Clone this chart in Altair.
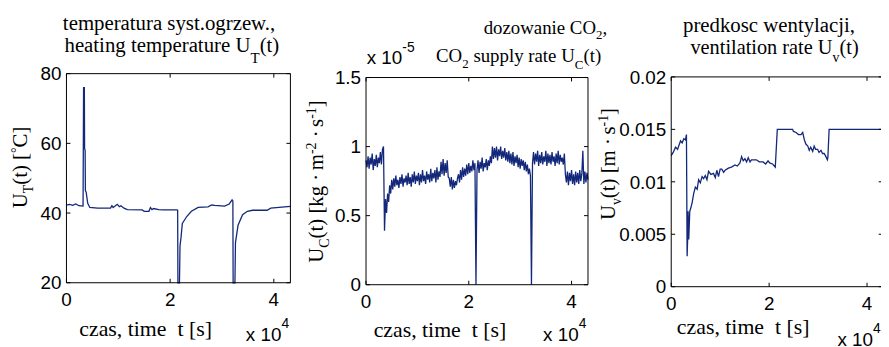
import altair as alt
import pandas as pd

# ---------------- data ----------------
T_END = 43200
x_ticks = [0, 20000, 40000]

heat_t = [0, 600, 1200, 1800, 2400, 3200, 3300, 3450, 3500, 3600, 3650, 3800, 4100, 4500,
          6000, 8500, 8760, 9000, 9800, 10200, 10500, 11100, 11750, 14600, 15000, 15900,
          16200, 16500, 16800, 17800, 18700, 21300, 21450, 21500, 21800, 21900, 22100, 22350,
          23200, 24100, 25400, 27300, 28000, 28600, 30500, 31400, 31950, 32100, 32150, 32500,
          32600, 33100, 33970, 34900, 35900, 38700, 39400, 41000, 43200]
heat_v = [42.3, 42.5, 42.2, 42.6, 42.1, 42.0, 76.0, 76.0, 58.5, 58.0, 46.5, 46.0, 42.8, 41.6,
          41.4, 41.4, 42.1, 41.6, 42.5, 41.8, 42.1, 41.4, 41.0, 40.9, 40.5, 40.5,
          41.6, 41.0, 41.3, 41.0, 40.9, 40.9, 40.8, 20.0, 20.0, 30.5, 33.0, 37.0,
          39.0, 40.5, 41.6, 41.8, 42.3, 42.2, 42.0, 42.6, 43.8, 43.5, 20.0, 20.0,
          31.5, 36.5, 39.5, 40.5, 40.8, 40.8, 41.4, 41.6, 41.9]
heat_ticks = [20, 40, 60, 80]

co2_dt = 200  # sampling step of the CO2 record [s]
co2_v = [0.90, 0.85, 0.93, 0.84, 0.92, 0.87, 0.95, 0.83, 0.91, 0.86, 0.94, 0.85, 0.92, 0.88,
         0.96, 0.87, 0.98,
         1.00, 0.39, 0.62, 0.52, 0.66, 0.60, 0.72, 0.66, 0.76, 0.69,
         0.77, 0.71, 0.79, 0.72, 0.76, 0.70, 0.78, 0.73, 0.80, 0.71,
         0.77, 0.74, 0.79, 0.72, 0.81, 0.73, 0.78, 0.71, 0.80, 0.74,
         0.82, 0.73, 0.79, 0.75, 0.81, 0.72, 0.80, 0.74, 0.83, 0.75,
         0.79, 0.73, 0.82, 0.76, 0.80, 0.74, 0.84, 0.75, 0.81, 0.77,
         0.83, 0.74, 0.85, 0.76, 0.82, 0.78,
         0.89, 0.80, 0.91, 0.79, 0.88, 0.81, 0.90, 0.78,
         0.77, 0.71, 0.78, 0.69, 0.76, 0.70, 0.75, 0.72, 0.77,
         0.80, 0.74, 0.83, 0.76, 0.85, 0.78, 0.84, 0.79, 0.87, 0.80, 0.88, 0.81, 0.86, 0.82,
         0.90, 0.83, 0.88,
         0.00,
         0.83, 0.90, 0.81, 0.89, 0.84, 0.92, 0.82, 0.88, 0.85, 0.91, 0.83, 0.90, 0.86, 0.93, 0.88,
         1.00, 0.91, 0.99, 0.92, 1.00, 0.90, 0.98, 0.93, 1.00, 0.91, 0.97, 0.92, 0.99, 0.90, 0.96,
         0.89, 0.97, 0.88, 0.95, 0.87, 0.96, 0.86, 0.93, 0.88, 0.94, 0.85, 0.92, 0.84, 0.91,
         0.86, 0.90, 0.83, 0.89, 0.82, 0.87, 0.80, 0.84,
         0.79, 0.00,
         0.88, 0.96, 0.87, 0.95, 0.89, 0.97, 0.86, 0.94, 0.88, 0.96,
         0.87, 0.93, 0.89, 0.97, 0.86, 0.95, 0.88, 0.94, 0.87, 0.96,
         0.89, 0.93, 0.86, 0.95, 0.88, 0.97, 0.87, 0.94, 0.89, 0.92,
         0.87, 0.95,
         0.80,
         0.74, 0.82, 0.72, 0.81, 0.75, 0.83, 0.73, 0.80, 0.72, 0.82, 0.74, 0.81, 0.73, 0.83,
         0.75, 0.80,
         0.97,
         0.73, 0.82, 0.74, 0.81, 0.76]
co2_t = [i * co2_dt for i in range(len(co2_v))]
co2_ticks = [0, 0.5, 1, 1.5]

vent_t = [0, 400, 880, 1300, 1900, 2230, 2570, 2900, 3110, 3250, 3350, 3450, 3580, 3790,
          4000, 4260, 4600, 4930, 5300, 5600, 5940, 6300, 6620, 6960, 7300, 7630, 8100,
          8640, 9000, 9320, 9660, 10000, 10330, 10700, 11000, 11680, 12300, 13030, 13500,
          14040, 14380, 14700, 15050, 15400, 15730, 16100, 16400, 17400, 18000, 18760,
          19300, 19780, 20100, 20700, 21260, 21670, 24800, 24970, 25500, 26000, 26500,
          26860, 27200, 27500, 27900, 28200, 28500, 28900, 29200, 29500, 29900, 30200,
          30600, 30900, 31250, 31600, 31900, 32000, 32260, 43200]
vent_v = [0.0125, 0.0128, 0.0133, 0.0131, 0.0139, 0.0137, 0.0141, 0.0140, 0.0145, 0.0029,
          0.0045, 0.0072, 0.0045, 0.0072, 0.0075, 0.0080, 0.0089, 0.0095, 0.0093, 0.0102,
          0.0099, 0.0105, 0.0103, 0.0106, 0.0102, 0.0110, 0.0107, 0.0108, 0.0104, 0.0111,
          0.0105, 0.0112, 0.0112, 0.0109, 0.0111, 0.0113, 0.0114, 0.0116, 0.0115, 0.0118,
          0.0124, 0.0120, 0.0122, 0.0119, 0.0123, 0.0119, 0.0121, 0.0121, 0.0119, 0.0119,
          0.0117, 0.0120, 0.0118, 0.0117, 0.0114, 0.0150, 0.0150, 0.0148, 0.0147, 0.0145,
          0.0145, 0.0147, 0.0140, 0.0136, 0.0134, 0.0130, 0.0133, 0.0129, 0.0134, 0.0131,
          0.0131, 0.0128, 0.0130, 0.0127, 0.0127, 0.0124, 0.0121, 0.0123, 0.0150, 0.0150]
vent_ticks = [0, 0.005, 0.01, 0.015, 0.02]

# ---------------- styling / layout ----------------
LINE = "#13287a"
SERIF = "Liberation Serif"
SANS = "Liberation Sans"
ONE = pd.DataFrame({"k": [0]})
TICK = 4
M = 8  # page margin: page coordinate -> view coordinate
VIEW_W, VIEW_H = 881, 339
NB = "\u00a0"

# approximate advance widths (em) for the serif / sans fonts
TW = {" ": .25, NB: .25, "(": .333, ")": .333, "[": .333, "]": .333, ",": .25, ".": .25,
      "-": .333, "\u00b0": .4, "\u00b7": .25, "C": .667, "O": .722, "T": .611, "U": .722,
      "a": .444, "c": .444, "e": .444, "f": .333, "i": .278, "j": .278, "l": .278,
      "m": .778, "r": .333, "s": .389, "t": .278, "w": .722, "z": .444}
AW = {" ": .278, "-": .333, "x": .5}


def tw(s, size, table, default):
    return sum(table.get(ch, default) for ch in s) * size


def label(s, x, y, size, font=SERIF, angle=0, align="left"):
    return alt.Chart(ONE).mark_text(
        text=s, font=font, fontSize=size, angle=angle, align=align,
        baseline="alphabetic", color="black"
    ).encode(x=alt.value(x - M), y=alt.value(y - M))


def run(pieces, x0, y0, rotated=False, font=SERIF):
    """A line of text made of pieces (text, size, baseline shift[, gap before in em])."""
    table, default = (TW, .5) if font == SERIF else (AW, .556)
    out, pos = [], 0.0
    for p in pieces:
        s, size, shift = p[:3]
        pos += (p[3] if len(p) > 3 else 0) * size
        if rotated:
            out.append(label(s, x0 + shift, y0 - pos, size, font, angle=270))
        else:
            out.append(label(s, x0 + pos, y0 + shift, size, font))
        pos += tw(s, size, table, default)
    return out


def panel(t, v, ydom, yticks, box):
    """box = (left, top, right, bottom) of the plot area in page pixels."""
    L, T, Rr, B = [c - M for c in box]
    df = pd.DataFrame({"t": t, "v": v})
    xs = alt.Scale(domain=[0, T_END], range=[L, Rr], nice=False, zero=False)
    ys = alt.Scale(domain=ydom, range=[B, T], nice=False, zero=False)
    y0, y1 = ydom
    line = alt.Chart(df).mark_line(color=LINE, strokeWidth=1.3).encode(
        x=alt.X("t:Q", scale=xs), y=alt.Y("v:Q", scale=ys))
    frame = alt.Chart(ONE).mark_rect(fillOpacity=0, stroke="black", strokeWidth=1).encode(
        x=alt.XDatum(0, type="quantitative", scale=xs), x2=alt.X2Datum(T_END),
        y=alt.YDatum(y0, type="quantitative", scale=ys), y2=alt.Y2Datum(y1))
    xt = pd.DataFrame({"t": x_ticks})
    yt = pd.DataFrame({"v": yticks})
    tb = alt.Chart(xt).mark_rule(color="black", y2Offset=-TICK).encode(
        x=alt.X("t:Q", scale=xs), y=alt.YDatum(y0, type="quantitative", scale=ys),
        y2=alt.Y2Datum(y0))
    tt = alt.Chart(xt).mark_rule(color="black", y2Offset=TICK).encode(
        x=alt.X("t:Q", scale=xs), y=alt.YDatum(y1, type="quantitative", scale=ys),
        y2=alt.Y2Datum(y1))
    tl = alt.Chart(yt).mark_rule(color="black", x2Offset=TICK).encode(
        y=alt.Y("v:Q", scale=ys), x=alt.XDatum(0, type="quantitative", scale=xs),
        x2=alt.X2Datum(0))
    tr = alt.Chart(yt).mark_rule(color="black", x2Offset=-TICK).encode(
        y=alt.Y("v:Q", scale=ys), x=alt.XDatum(T_END, type="quantitative", scale=xs),
        x2=alt.X2Datum(T_END))
    ylab = alt.Chart(yt).mark_text(font=SANS, fontSize=19, align="right",
                                   baseline="alphabetic", dx=-5, dy=6.8, color="black").encode(
        y=alt.Y("v:Q", scale=ys), x=alt.XDatum(0, type="quantitative", scale=xs),
        text=alt.Text("v:Q", format="~r"))
    xlab = alt.Chart(xt).transform_calculate(lab="datum.t / 10000").mark_text(
        font=SANS, fontSize=19, align="center", baseline="alphabetic", dy=23.5,
        color="black").encode(
        x=alt.X("t:Q", scale=xs), y=alt.YDatum(y0, type="quantitative", scale=ys),
        text=alt.Text("lab:Q", format="~r"))
    return [line, frame, tb, tt, tl, tr, ylab, xlab]


XT = "czas, time" + NB + " t [s]"
S = SANS
DOT = "\u00b7"

layers = []
# ---- panel 1: heating temperature
layers += panel(heat_t, heat_v, [20, 80], heat_ticks, (67, 72.7, 293, 283.7))
layers.append(label("temperatura syst.ogrzew.,", 170.5, 28.3, 21, align="center"))
layers += run([("heating temperature U", 21, 0), ("T", 15, 11), ("(t)", 21, 0)], 65, 51)
layers += run([("U", 21, 0), ("T", 14, 6), ("(t) [", 21, 0), ("\u00b0", 14, -6),
               ("C]", 21, 0)], 27.5, 208.5, rotated=True)
layers.append(label(XT, 80, 337.3, 22))
layers += run([("x 10", 19, 0), ("4", 14, -13.5)], 248, 343, font=S)

# ---- panel 2: CO2 supply
layers += panel(co2_t, co2_v, [0, 1.5], co2_ticks, (369.3, 76.6, 593.3, 285.7))
layers += run([("dozowanie CO", 19, 0), ("2", 13, 5), (",", 19, 0)], 488, 32.3)
layers += run([("CO", 19, 0), ("2", 13, 5.5), ("supply rate U", 19, 0, .25), ("C", 13, 7),
               ("(t)", 19, 0)], 440, 61)
layers += run([("x 10", 19, 0), ("-5", 14, -12.8)], 370, 63.3, font=S)
layers += run([("U", 21, 0), ("C", 14, 6), ("(t) [kg", 21, 0), (DOT, 21, 0, .25),
               ("m", 21, 0, .25), ("-2", 14, -7), (DOT, 21, 0, .25), ("s", 21, 0, .25),
               ("-1", 14, -7), ("]", 21, 0)], 325.5, 263.5, rotated=True)
layers.append(label(XT, 377, 338, 22))
layers += run([("x 10", 19, 0), ("4", 14, -13.5)], 548, 343, font=S)

# ---- panel 3: ventilation rate
layers += panel(vent_t, vent_v, [0, 0.02], vent_ticks, (677.3, 76, 890.7, 287.7))
layers.append(label("predkosc wentylacji,", 776, 30.7, 21, align="center"))
layers += run([("ventilation rate U", 20.5, 0), ("v", 14, 8), ("(t)", 20.5, 0)], 696.7, 52.7)
layers += run([("U", 21, 0), ("v", 14, 6), ("(t) [m", 21, 0), (DOT, 21, 0, .25),
               ("s", 21, 0, .25), ("-1", 14, -7), ("]", 21, 0)], 620.5, 220.5, rotated=True)
layers.append(label(XT, 683, 335, 22))
layers += run([("x 10", 19, 0), ("4", 14, -13.5)], 845, 348, font=S)

chart = (
    alt.layer(*layers)
    .resolve_scale(x="independent", y="independent")
    .properties(width=VIEW_W, height=VIEW_H, padding=0,
                autosize=alt.AutoSizeParams(type="none"), background="white")
    .configure_view(strokeOpacity=0)
    .configure_axis(disable=True)
)

chart.save("out.html", embed_options={"renderer": "svg", "actions": False})
